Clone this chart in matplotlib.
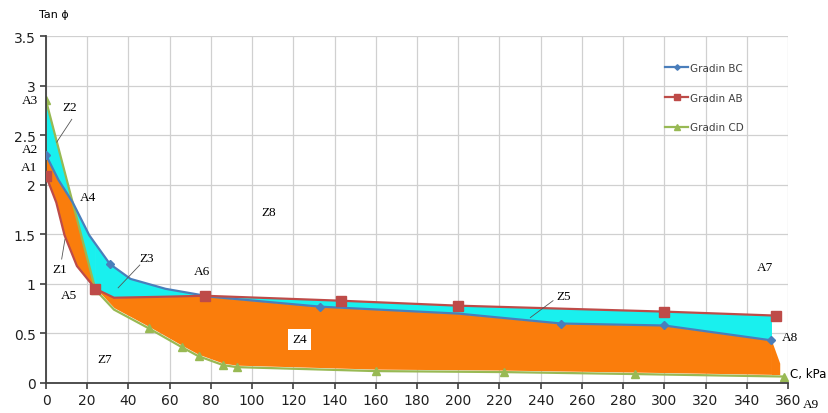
import numpy as np
import matplotlib.pyplot as plt

# Gradin BC (blue), markers on some of them
bc_x = [0, 6, 13, 21, 31, 41, 58, 80, 133, 200, 250, 300, 352]
bc_y = [2.30, 2.05, 1.82, 1.49, 1.20, 1.05, 0.95, 0.87, 0.77, 0.70, 0.60, 0.58, 0.43]
bc_marks = [0, 4, 8, 10, 11, 12]

# Gradin AB (red)
ab_x = [0, 5, 9, 15, 24, 33, 57, 77, 143, 200, 300, 354]
ab_y = [2.09, 1.82, 1.49, 1.18, 0.95, 0.86, 0.87, 0.88, 0.83, 0.78, 0.72, 0.68]
ab_marks = [0, 4, 7, 8, 9, 10, 11]

# Gradin CD (green)
cd_x = [0, 24, 33, 50, 66, 74, 86, 92.5, 160, 222, 286, 358]
cd_y = [2.85, 0.94, 0.74, 0.55, 0.36, 0.27, 0.18, 0.16, 0.12, 0.11, 0.09, 0.065]
cd_marks = [0, 1, 3, 4, 5, 6, 7, 8, 9, 10, 11]

x_ticks = list(range(0, 361, 20))
y_ticks = [0, 0.5, 1, 1.5, 2, 2.5, 3, 3.5]

point_labels = [("A3", -8, 2.85), ("A2", -8, 2.36), ("A1", -8, 2.18),
                ("A4", 20.5, 1.88), ("A5", 11, 0.89), ("A6", 75.5, 1.13),
                ("A7", 349, 1.17), ("A8", 361, 0.46), ("A9", 371, -0.21)]

blue = "#4A7EBB"
red = "#BE4B48"
green = "#98B954"
cyan = "#19F0EE"
orange = "#FA7D0C"

fig = plt.figure(figsize=(8.29, 4.14), dpi=100)
ax = fig.add_axes([0.0555, 0.0725, 0.895, 0.838])

# zones
g1 = np.linspace(0, 24, 200)
b1 = np.interp(g1, bc_x, bc_y)
c1 = np.interp(g1, cd_x, cd_y)
r1 = np.interp(g1, ab_x, ab_y)
ax.fill_between(g1, np.maximum(b1, c1), np.minimum(b1, c1), color=cyan, lw=0, zorder=1)
ax.fill_between(g1, np.minimum(b1, c1), r1, color=orange, lw=0, zorder=1)

g2 = np.linspace(24, 352, 800)
b2 = np.interp(g2, bc_x, bc_y)
r2 = np.interp(g2, ab_x, ab_y)
c2 = np.interp(g2, cd_x, cd_y)
ax.fill_between(g2, np.maximum(b2, r2), np.minimum(b2, r2), color=cyan, lw=0, zorder=1)
ax.fill_between(g2, np.minimum(b2, r2), c2 + 0.02, color=orange, lw=0, zorder=1)
ax.fill_between([352, 356], [0.43, 0.2], [0.085, 0.085], color=orange, lw=0, zorder=1)

# lines
ax.plot(bc_x, bc_y, color=blue, lw=1.6, marker="D", ms=4, markevery=bc_marks,
        label="Gradin BC", zorder=3)
ax.plot(ab_x, ab_y, color=red, lw=1.6, marker="s", ms=7, markevery=ab_marks,
        label="Gradin AB", zorder=3)
ax.plot(cd_x, cd_y, color=green, lw=1.6, marker="^", ms=6, markevery=cd_marks,
        label="Gradin CD", zorder=2)

ax.set_xlim(0, 360)
ax.set_ylim(0, 3.5)
ax.set_xticks(x_ticks)
ax.set_yticks(y_ticks)
ax.set_yticklabels(["0", "0.5", "1", "1.5", "2", "2.5", "3", "3.5"])
ax.grid(True, color="#D0D0D0", lw=0.9, zorder=0)
ax.set_axisbelow(True)
for s in ["top", "right"]:
    ax.spines[s].set_visible(False)
for s in ["left", "bottom"]:
    ax.spines[s].set_color("#404040")
    ax.spines[s].set_linewidth(1.3)
ax.tick_params(labelsize=10, colors="#404040", length=4, width=1.2, labelcolor="#202020")

ax.text(-3.5, 3.72, "Tan ϕ", fontsize=8, ha="left", va="center", clip_on=False)
ax.text(361, 0.1, "C, kPa", fontsize=8.5, ha="left", va="center", clip_on=False)

serif = "Liberation Serif"
for name, x, y in point_labels:
    ax.text(x, y, name, fontsize=9.5, family=serif, ha="center", va="center", clip_on=False, zorder=5)

ax.text(11.6, 2.78, "Z2", fontsize=9.5, family=serif, ha="center", va="center")
ax.plot([12.5, 5.2], [2.66, 2.43], color="#555555", lw=0.6, zorder=4)
ax.text(6.8, 1.15, "Z1", fontsize=9.5, family=serif, ha="center", va="center", zorder=5)
ax.plot([7.6, 9.2], [1.25, 1.45], color="#555555", lw=0.6, zorder=4)
ax.text(49, 1.26, "Z3", fontsize=9.5, family=serif, ha="center", va="center")
ax.plot([45.5, 35], [1.19, 0.96], color="#555555", lw=0.6, zorder=4)
ax.text(251, 0.88, "Z5", fontsize=9.5, family=serif, ha="center", va="center")
ax.plot([246, 235], [0.83, 0.66], color="#555555", lw=0.6, zorder=4)
ax.text(123, 0.44, "Z4", fontsize=9.5, family=serif, ha="center", va="center", zorder=5,
        bbox=dict(facecolor="white", edgecolor="none", pad=3))
ax.text(28.6, 0.24, "Z7", fontsize=9.5, family=serif, ha="center", va="center")
ax.text(108, 1.73, "Z8", fontsize=9.5, family=serif, ha="center", va="center")

leg = ax.legend(loc="upper left", bbox_to_anchor=(0.822, 0.95), frameon=False,
                fontsize=7.5, labelspacing=1.9, handlelength=2.2, handletextpad=0.2,
                markerscale=0.7)
for t in leg.get_texts():
    t.set_color("#404040")

fig.savefig("out.png", dpi=100)
